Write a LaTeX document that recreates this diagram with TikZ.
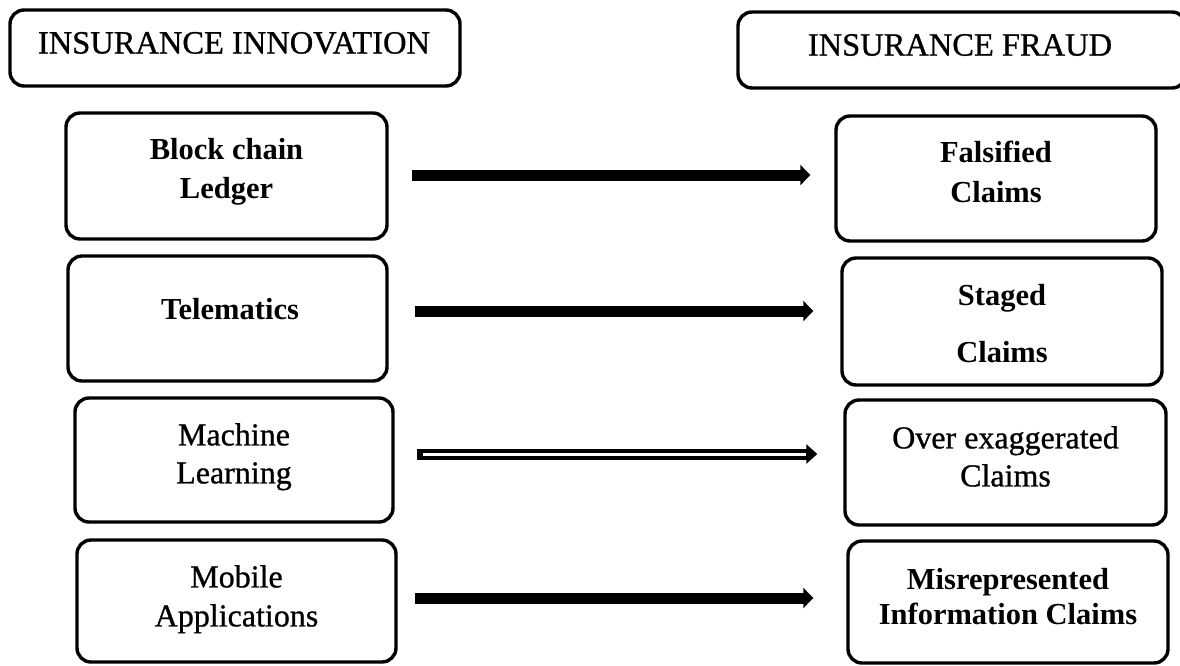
\documentclass[tikz,border=0pt]{standalone}
\usepackage{fontspec}
\setmainfont{Liberation Serif}
\newfontfamily\heavyrm[FakeBold=0.8]{Liberation Serif}
\usetikzlibrary{arrows.meta}
\begin{document}
\begin{tikzpicture}[x=1pt,y=-1pt,
  box/.style={draw=black, line width=3.4pt, rounded corners=14pt, inner sep=0pt},
  ttl/.style={inner sep=0pt, font=\heavyrm\fontsize{32.5}{38}\selectfont},
  lbl/.style={inner sep=0pt, align=center, anchor=north},
  bf/.style={font=\fontsize{30.5}{#1}\selectfont\bfseries},
  rg/.style={font=\heavyrm\fontsize{32}{#1}\selectfont},
  arr/.style={line width=11pt, -{Triangle[length=10pt,width=20pt]}},
  arrdbl/.style={line width=11pt, -{Triangle[length=11pt,width=19pt]},
    postaction={draw=white, line width=3pt, -, shorten <=28pt, shorten >=37pt}}
]
\useasboundingbox (0,0) rectangle (1180,665);
\fill[white] (0,0) rectangle (1180,665);

% titles
\node[box, minimum width=450pt, minimum height=76pt] (T1) at (235,48) {};
\node[box, minimum width=448pt, minimum height=76pt] (T2) at (962,50) {};
\node[ttl] (T1t) at (234,43) {INSURANCE INNOVATION};
\node[ttl] (T2t) at (960,45) {INSURANCE FRAUD};

% left boxes
\node[box, minimum width=321pt, minimum height=126pt] (L1) at (226.5,176) {};
\node[box, minimum width=319pt, minimum height=125pt] (L2) at (227.5,318.5) {};
\node[box, minimum width=318pt, minimum height=124pt] (L3) at (234,460) {};
\node[box, minimum width=319pt, minimum height=122pt] (L4) at (236.5,601) {};

% right boxes
\node[box, minimum width=320pt, minimum height=125pt] (R1) at (996,178.5) {};
\node[box, minimum width=320pt, minimum height=127pt] (R2) at (1002,321.5) {};
\node[box, minimum width=321pt, minimum height=125pt] (R3) at (1005.5,462.5) {};
\node[box, minimum width=320pt, minimum height=122pt] (R4) at (1008,602) {};

% labels
\node[lbl, bf=39] (L1t) at (226.5,138) {Block chain\\Ledger};
\node[lbl, bf=39] (L2t) at (230,298) {Telematics};
\node[lbl, rg=38] (L3t) at (234,423) {Machine\\Learning};
\node[lbl, rg=39] (L4t) at (236.5,565) {Mobile\\Applications};

\node[lbl, bf=40] (R1t) at (996,141) {Falsified\\Claims};
\node[lbl, bf=57] (R2t) at (1002,284) {Staged\\Claims};
\node[lbl, rg=38] (R3t) at (1005.5,426) {Over exaggerated\\Claims};
\node[lbl, bf=35] (R4t) at (1008,568) {Misrepresented\\Information Claims};

% arrows
\draw[arr, shorten <=23pt, shorten >=24pt] ([yshift=1pt]L1.east) -- ([yshift=1pt]L1.east -| R1.west);
\draw[arr, shorten <=26pt, shorten >=27pt] ([yshift=7.5pt]L2.east) -- ([yshift=7.5pt]L2.east -| R2.west);
\draw[arrdbl, shorten <=22pt, shorten >=26pt] ([yshift=6pt]L3.east) -- ([yshift=6pt]L3.east -| R3.west);
\draw[arr, shorten <=17pt, shorten >=33pt] ([yshift=3pt]L4.east) -- ([yshift=3pt]L4.east -| R4.west);
\end{tikzpicture}
\end{document}
